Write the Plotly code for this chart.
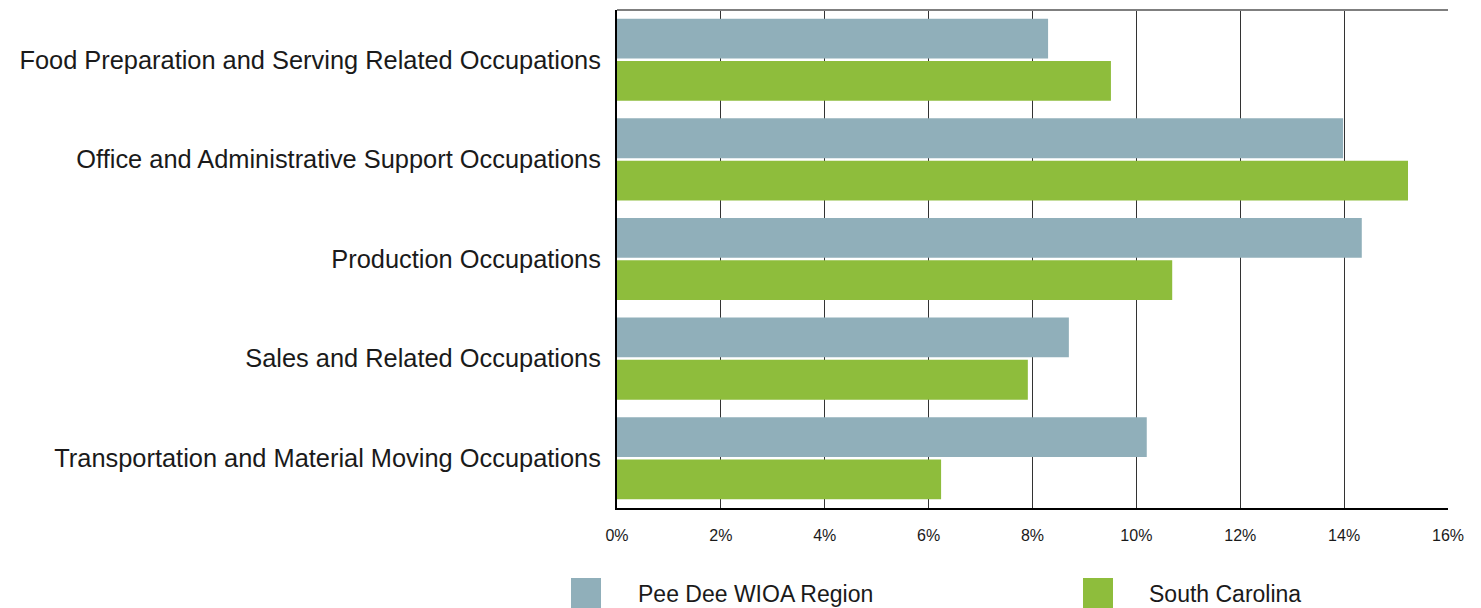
import plotly.graph_objects as go

categories = [
    "Food Preparation and Serving Related Occupations",
    "Office and Administrative Support Occupations",
    "Production Occupations",
    "Sales and Related Occupations",
    "Transportation and Material Moving Occupations",
]
pee_dee = [8.30, 13.98, 14.34, 8.70, 10.20]
south_carolina = [9.51, 15.23, 10.69, 7.91, 6.24]
x_ticks = [0, 2, 4, 6, 8, 10, 12, 14, 16]
x_tick_text = [f"{t}%" for t in x_ticks]

PD_COLOR = "#90AFBA"
SC_COLOR = "#8EBD3C"
FONT = "Liberation Sans, Arial, sans-serif"

fig = go.Figure()
fig.add_trace(go.Bar(y=categories, x=pee_dee, orientation="h", name="Pee Dee WIOA Region",
                     marker=dict(color=PD_COLOR, line=dict(width=0))))
fig.add_trace(go.Bar(y=categories, x=south_carolina, orientation="h", name="South Carolina",
                     marker=dict(color=SC_COLOR, line=dict(width=0))))

# page body adds an 8px offset, so figure coords = screen coords - 8
OFF = 8
W, H = 1481, 608
L, R, T, B = 617 - OFF, 33 + OFF, 10 - OFF, 100 + OFF
pw, ph = W - L - R, H - T - B


def px_x(p):
    return (p - OFF - L) / pw


def px_y(p):
    return (H - B - (p - OFF)) / ph


fig.update_layout(
    width=W, height=H,
    margin=dict(l=L, r=R, t=T, b=B),
    paper_bgcolor="white", plot_bgcolor="white",
    barmode="group", bargap=0.15, bargroupgap=0.06,
    showlegend=False,
    font=dict(family=FONT, color="#1a1a1a"),
    xaxis=dict(
        range=[0, 16], tickvals=x_ticks, ticktext=x_tick_text,
        showgrid=True, gridcolor="#333333", gridwidth=1,
        showline=True, linecolor="black", linewidth=2,
        zeroline=False, ticks="outside", ticklen=0, automargin=False,
        ticklabelstandoff=12, tickfont=dict(size=16, color="#1a1a1a"),
    ),
    yaxis=dict(
        autorange="reversed", showline=True, linecolor="black", linewidth=2,
        showgrid=False, ticks="outside", ticklen=0, ticklabelstandoff=9,
        automargin=False, tickfont=dict(size=25.4, color="#1a1a1a"),
    ),
)

# top border of plot area
fig.add_shape(type="line", xref="paper", yref="paper", x0=0, x1=1, y0=1, y1=1,
              line=dict(color="#7f7f7f", width=2))

# legend drawn below the chart
legend_items = [("Pee Dee WIOA Region", PD_COLOR, 571, 636),
                ("South Carolina", SC_COLOR, 1083, 1147)]
for label, color, sx, tx in legend_items:
    fig.add_shape(type="rect", xref="paper", yref="paper",
                  x0=px_x(sx), x1=px_x(sx + 30), y0=px_y(578), y1=px_y(608),
                  fillcolor=color, line=dict(width=0))
    fig.add_annotation(xref="paper", yref="paper", x=px_x(tx), y=px_y(594),
                       text=label, showarrow=False, xanchor="left", yanchor="middle",
                       font=dict(size=23, color="#1a1a1a", family=FONT))

fig.write_html("out.html")
